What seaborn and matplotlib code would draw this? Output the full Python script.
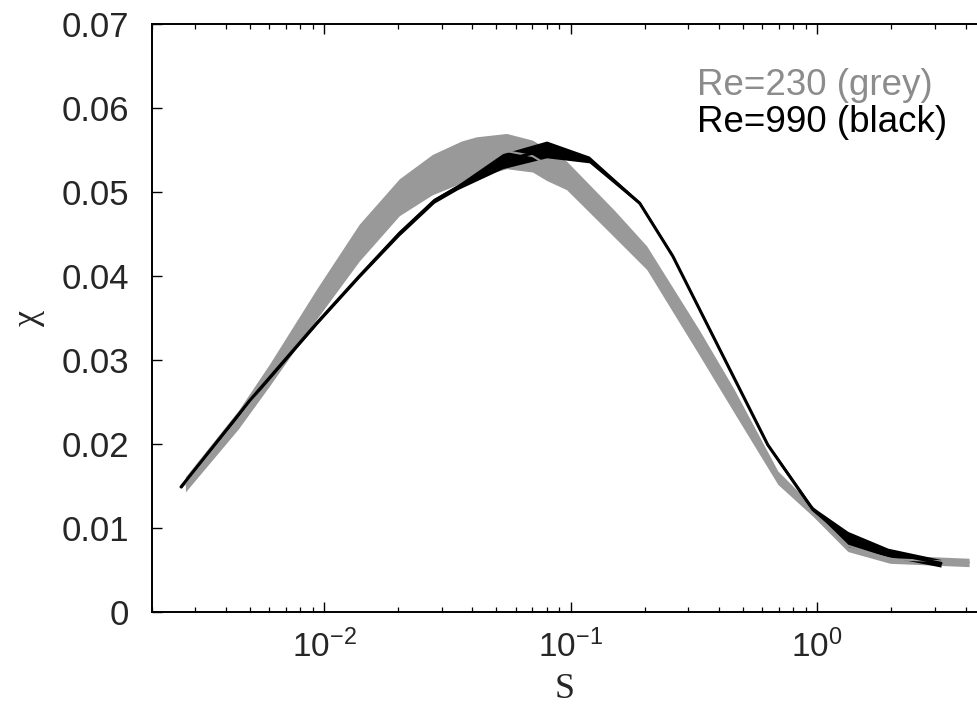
import numpy as np
import pandas as pd
import matplotlib
matplotlib.use("Agg")
import matplotlib.pyplot as plt
import seaborn as sns
from matplotlib.ticker import LogLocator, NullFormatter, FixedLocator, FixedFormatter

# ---- data ----
s_grey = [0.00274, 0.00449, 0.0060, 0.00939, 0.0139, 0.0202, 0.0275, 0.0361, 0.0415,
          0.0550, 0.0701, 0.0799, 0.0963, 0.151, 0.2035, 0.334, 0.459, 0.6925,
          0.9605, 1.332, 1.973, 4.13]
chi_grey = [0.0152, 0.0229, 0.0282, 0.0368, 0.0440, 0.0494, 0.0521, 0.0536, 0.0542,
            0.0549, 0.0543, 0.0533, 0.0520, 0.0462, 0.0422, 0.0320, 0.0252, 0.0160,
            0.0120, 0.0079, 0.0063, 0.0059]
hw_grey = [0.0009, 0.0011, 0.0013, 0.0018, 0.0022, 0.0022, 0.0024, 0.0025, 0.0024,
           0.0021, 0.0019, 0.0019, 0.0017, 0.0016, 0.0014, 0.0015, 0.0014, 0.0008,
           0.0006, 0.0007, 0.0005, 0.0005]

s_black = [0.00263, 0.0050, 0.0094, 0.0139, 0.0202, 0.0280, 0.0348, 0.0530, 0.0799,
           0.119, 0.1906, 0.2595, 0.6307, 0.9605, 1.332, 1.937, 3.178]
chi_black = [0.0149, 0.0252, 0.0345, 0.0400, 0.0451, 0.0490, 0.0506, 0.0537, 0.0551,
             0.0539, 0.0487, 0.0424, 0.0199, 0.0122, 0.0087, 0.0071, 0.0058]
hw_black = [0.0002, 0.0002, 0.0002, 0.0002, 0.0003, 0.0003, 0.0003, 0.0009, 0.0010,
            0.0004, 0.0002, 0.0002, 0.0002, 0.0003, 0.0009, 0.0005, 0.00045]

y_ticks = [0, 0.01, 0.02, 0.03, 0.04, 0.05, 0.06, 0.07]
y_tick_labels = ["0", "0.01", "0.02", "0.03", "0.04", "0.05", "0.06", "0.07"]
x_ticks = [1e-2, 1e-1, 1e0]
x_tick_labels = [r"$\mathregular{10^{-2}}$", r"$\mathregular{10^{-1}}$", r"$\mathregular{10^{0}}$"]
labels = ["Re=230 (grey)", "Re=990 (black)"]

GREY = "#999999"
GREY_TXT = "#8c8c8c"

sns.set_theme(style="ticks")
plt.rcParams['font.family'] = ['Liberation Sans', 'DejaVu Sans']

fig = plt.figure(figsize=(9.78, 7.15), dpi=100)
ax = fig.add_axes([151.7 / 978, 103 / 715, 1 - 151.7 / 978, 587.7 / 715])

df_g = pd.DataFrame({"s": s_grey, "chi": chi_grey, "hw": hw_grey})
df_b = pd.DataFrame({"s": s_black, "chi": chi_black, "hw": hw_black})

ax.fill_between(df_g["s"], df_g["chi"] - df_g["hw"], df_g["chi"] + df_g["hw"],
                color=GREY, lw=0)
sns.lineplot(data=df_g, x="s", y="chi", color=GREY, lw=1.5, ax=ax, sort=False)

ax.fill_between(df_b["s"], df_b["chi"] - df_b["hw"], df_b["chi"] + df_b["hw"],
                color="black", lw=0)
sns.lineplot(data=df_b, x="s", y="chi", color="black", lw=2.2, ax=ax, sort=False)

ax.set_xscale("log")
ax.set_xlim(0.002, 4.49)
ax.set_ylim(0, 0.07)

ax.xaxis.set_major_locator(FixedLocator(x_ticks))
ax.xaxis.set_major_formatter(FixedFormatter(x_tick_labels))
ax.xaxis.set_minor_locator(LogLocator(base=10, subs=np.arange(2, 10)))
ax.xaxis.set_minor_formatter(NullFormatter())
ax.yaxis.set_major_locator(FixedLocator(y_ticks))
ax.yaxis.set_major_formatter(FixedFormatter(y_tick_labels))

ax.tick_params(axis="x", which="major", direction="in", top=True, bottom=True,
               length=7.5, width=1.0, labelsize=24, pad=13, color="black")
ax.tick_params(axis="x", which="minor", direction="in", top=True, bottom=True,
               length=3.8, width=0.9, color="black")
ax.tick_params(axis="y", which="major", direction="in", left=True, right=False,
               length=7.5, width=1.0, labelsize=25, pad=16, color="black")

for side in ["left", "bottom", "top"]:
    ax.spines[side].set_linewidth(1.4)
    ax.spines[side].set_color("black")
ax.spines["right"].set_visible(False)

ax.set_xlabel("S", fontsize=26, family=["Liberation Serif", "DejaVu Serif"], labelpad=6)
ax.set_ylabel("χ", fontsize=26, family=["Liberation Serif", "DejaVu Serif"], labelpad=12)

ax.text(0.6596, 0.8797, labels[0], transform=ax.transAxes, fontsize=26.5,
        color=GREY_TXT, va="baseline", ha="left")
ax.text(0.6596, 0.8173, labels[1], transform=ax.transAxes, fontsize=26.5,
        color="black", va="baseline", ha="left")

fig.savefig("out.png", dpi=100)
